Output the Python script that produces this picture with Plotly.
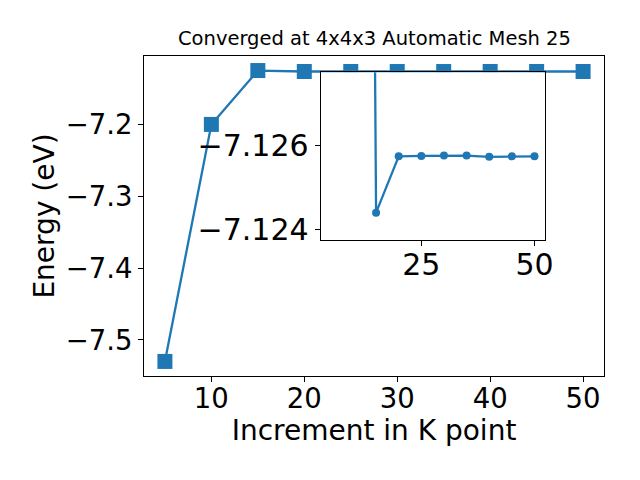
import plotly.graph_objects as go

# Data
kpoints = [5, 10, 15, 20, 25, 30, 35, 40, 45, 50]
energy = [-7.530, -7.1995, -7.12439, -7.12573, -7.12574, -7.12575, -7.12575, -7.12572, -7.12573, -7.12573]

main_xticks = [10, 20, 30, 40, 50]
main_yticks = [-7.5, -7.4, -7.3, -7.2]
inset_xticks = [25, 50]
inset_yticks = [-7.126, -7.124]

title_text = "Converged at 4x4x3 Automatic Mesh 25"
xlabel = "Increment in K point"
ylabel = "Energy (eV)"

BLUE = "#1f77b4"
FONT = "DejaVu Sans"


def fmt(v, nd):
    s = f"{abs(v):.{nd}f}"
    return ("\u2212" + s) if v < 0 else s


fig = go.Figure()
fig.add_trace(go.Scatter(
    x=kpoints, y=energy, mode="lines+markers",
    line=dict(color=BLUE, width=2.3),
    marker=dict(symbol="square", size=15, color=BLUE),
    xaxis="x", yaxis="y", showlegend=False, cliponaxis=False,
))
fig.add_trace(go.Scatter(
    x=kpoints, y=energy, mode="lines+markers",
    line=dict(color=BLUE, width=2.3),
    marker=dict(symbol="circle", size=8, color=BLUE),
    xaxis="x2", yaxis="y2", showlegend=False, cliponaxis=True,
))

axis_common = dict(
    showline=True, linecolor="black", linewidth=1, mirror=True,
    ticks="outside", ticklen=5, tickwidth=1, tickcolor="black",
    showgrid=False, zeroline=False, automargin=False,
)

fig.update_layout(
    width=640, height=480,
    margin=dict(l=144, r=36, t=56, b=104, autoexpand=False),
    paper_bgcolor="white", plot_bgcolor="white",
    font=dict(family=FONT, color="black"),
    xaxis=dict(
        **axis_common, domain=[0, 1], range=[2.75, 52.25],
        tickfont=dict(family=FONT, size=27.5, color="black"), ticklabelstandoff=-7,
        tickmode="array", tickvals=main_xticks, ticktext=[str(v) for v in main_xticks],
        title=dict(text=xlabel, font=dict(family=FONT, size=28, color="black"), standoff=6),
    ),
    yaxis=dict(
        **axis_common, domain=[0, 1], range=[-7.5503, -7.1041],
        tickfont=dict(family=FONT, size=27.5, color="black"),
        tickmode="array", tickvals=main_yticks, ticktext=[fmt(v, 1) for v in main_yticks],
        title=dict(text=ylabel, font=dict(family=FONT, size=28, color="black"), standoff=2),
    ),
    xaxis2=dict(
        **axis_common, domain=[0.384, 0.871], range=[2.75, 52.25], anchor="y2",
        tickfont=dict(family=FONT, size=30, color="black"), ticklabelstandoff=-7,
        tickmode="array", tickvals=inset_xticks, ticktext=[str(v) for v in inset_xticks],
    ),
    yaxis2=dict(
        **axis_common, domain=[0.425, 0.949], range=[-7.12374, -7.12773], anchor="x2",
        tickfont=dict(family=FONT, size=30, color="black"),
        tickmode="array", tickvals=inset_yticks, ticktext=[fmt(v, 3) for v in inset_yticks],
    ),
    annotations=[dict(
        text=title_text, xref="paper", yref="paper", x=0.5, y=1,
        xanchor="center", yanchor="bottom", yshift=4, showarrow=False,
        font=dict(family=FONT, size=19.5, color="black"),
    )],
)

fig.write_html(
    "out.html",
    config={"displayModeBar": False},
    post_script="document.body.style.margin='0';document.body.style.overflow='hidden';",
)
